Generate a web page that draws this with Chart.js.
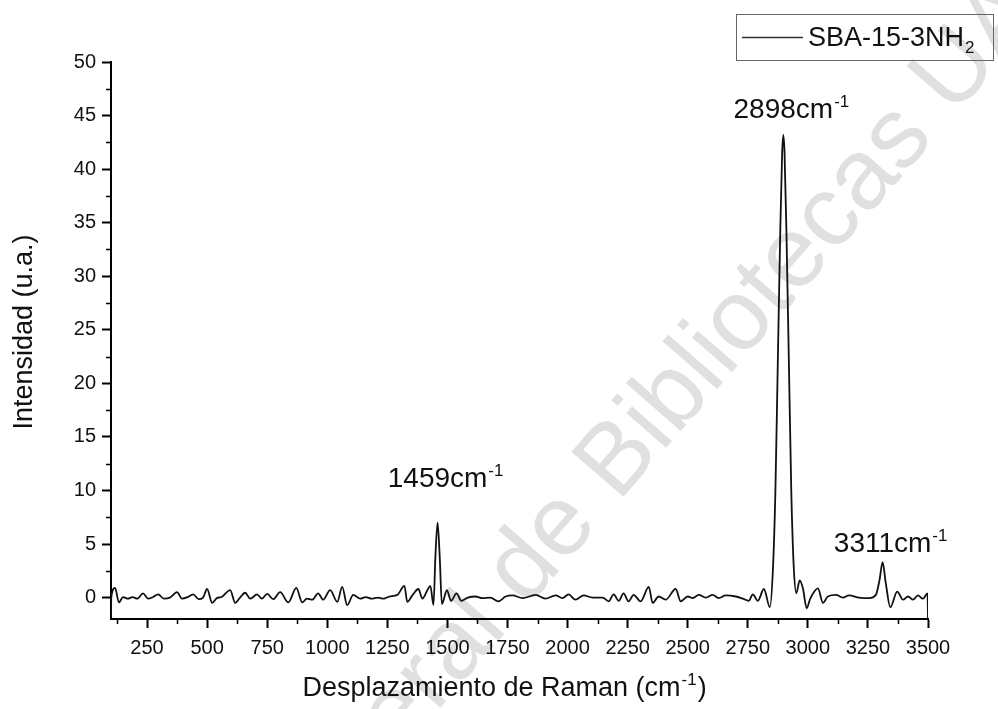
<!DOCTYPE html>
<html>
<head>
<meta charset="utf-8">
<title>Raman SBA-15-3NH2</title>
<script src="https://cdn.jsdelivr.net/npm/chart.js@4.4.1/dist/chart.umd.min.js"></script>
<style>
  html, body { margin: 0; padding: 0; background: #fff; }
  #wrap { width: 998px; height: 709px; }
</style>
</head>
<body>
<div id="wrap"><canvas id="ramanChart" width="998" height="709"></canvas></div>
<script>
// Raman spectrum, SBA-15 functionalised with 3 NH2 groups
const ramanShift = [
  100, 101, 117, 133, 150, 170, 190, 210, 233, 255, 275, 296, 320, 345, 375, 395,
  420, 442, 465, 483, 500, 521, 540, 560, 596, 617, 637, 658, 680, 708, 728, 750,
  775, 804, 838, 871, 896, 915, 938, 962, 983, 1012, 1042, 1062, 1083, 1108, 1137,
  1160, 1185, 1210, 1235, 1258, 1292, 1321, 1333, 1354, 1379, 1396, 1417, 1429,
  1442, 1450, 1459, 1468, 1477, 1498, 1515, 1538, 1558, 1585, 1617, 1646, 1679,
  1712, 1742, 1771, 1813, 1867, 1908, 1950, 1979, 2004, 2033, 2067, 2104, 2146,
  2171, 2192, 2213, 2233, 2254, 2275, 2304, 2338, 2354, 2379, 2408, 2450, 2471,
  2500, 2521, 2546, 2575, 2604, 2629, 2658, 2700, 2729, 2754, 2771, 2792, 2817,
  2842, 2855, 2865, 2875, 2885, 2893, 2898, 2903, 2911, 2921, 2931, 2941, 2952,
  2966, 2980, 2995, 3010, 3042, 3063, 3083, 3117, 3146, 3171, 3213, 3254, 3283,
  3298, 3311, 3324, 3343, 3372, 3396, 3417, 3438, 3458, 3479, 3498, 3500
];
const intensity = [
  -2, 0.0, 0.9, -0.45, 0.05, -0.1, 0.05, -0.1, 0.4, -0.1, 0.05, 0.3, -0.1, 0.0, 0.5, -0.1,
  0.05, 0.3, -0.15, 0.0, 0.8, -0.5, -0.05, 0.05, 0.7, -0.5, 0.0, 0.45, -0.1, 0.3, -0.1, 0.35,
  -0.15, 0.5, -0.45, 0.9, -0.45, -0.1, -0.2, 0.4, -0.2, 0.7, -0.4, 1.0, -0.7, 0.25, -0.1,
  0.05, -0.1, 0.0, -0.1, 0.1, 0.25, 1.1, -0.4, 0.2, 0.8, -0.1, 0.7, 1.1,
  -0.7, 3.8, 7.0, 3.8, -0.6, 0.7, -0.3, 0.4, -0.3, 0.0, 0.1, -0.05, 0.0,
  -0.35, 0.1, 0.2, -0.05, 0.25, -0.1, 0.2, -0.05, 0.3, -0.2, 0.2, 0.0, 0.0,
  -0.35, 0.3, -0.3, 0.4, -0.35, 0.25, -0.35, 1.0, -0.5, 0.1, -0.2, 0.8, -0.35,
  0.1, -0.05, 0.25, 0.0, 0.25, -0.05, 0.2, 0.1, -0.1, -0.3, 0.3, -0.3, 0.8,
  -0.9, 2.8, 10, 22, 34, 41.5, 43.2, 41.5, 34, 22, 10, 3, 0.4,
  1.6, 0.8, -1.0, -0.1, 0.85, -0.5, 0.1, 0.25, 0.0, 0.2, 0.0, -0.05, 0.25,
  1.6, 3.3, 1.4, -0.9, 0.55, -0.2, 0.1, -0.2, 0.2, -0.1, 0.4, -2
];
const xTicks = [250, 500, 750, 1000, 1250, 1500, 1750, 2000, 2250, 2500, 2750, 3000, 3250, 3500];
const yTicks = [0, 5, 10, 15, 20, 25, 30, 35, 40, 45, 50];
const peakLabels = [1459, 2898, 3311];
const seriesName = ["SBA-15-3NH", "2"];

const FONT = '"Liberation Sans", Arial, sans-serif';
const INK = "#111";

// draws base text plus a raised (sup) or lowered (sub) small part, returns end x
function scriptText(ctx, base, small, x, y, size, raise) {
  ctx.font = `${size}px ${FONT}`;
  ctx.fillText(base, x, y);
  const w = ctx.measureText(base).width;
  ctx.font = `${Math.round(size * 0.62)}px ${FONT}`;
  ctx.fillText(small, x + w + 1, y + raise);
  return x + w + 1 + ctx.measureText(small).width;
}

function baseWidth(ctx, str, size) {
  ctx.font = `${size}px ${FONT}`;
  return ctx.measureText(str).width;
}

const decor = {
  id: "decor",
  beforeDraw(chart) {
    const ctx = chart.ctx;
    ctx.save();
    ctx.fillStyle = "#e0e0e0";
    ctx.translate(618, 503);
    ctx.rotate(-49 * Math.PI / 180);
    ctx.font = `100px ${FONT}`;
    ctx.textBaseline = "alphabetic";
    ctx.textAlign = "right";
    ctx.fillText("Dirección General de ", 0, 0);
    ctx.textAlign = "left";
    ctx.fillText("Bibliotecas UAQ", 0, 0);
    ctx.restore();
  },
  afterDraw(chart) {
    const ctx = chart.ctx;
    const xs = chart.scales.x, ys = chart.scales.y;
    const area = chart.chartArea;
    ctx.save();

    // minor ticks
    ctx.strokeStyle = "#000";
    ctx.lineWidth = 1.5;
    ctx.beginPath();
    for (let v = 125; v < 3500; v += 250) {
      const px = Math.round(xs.getPixelForValue(v)) + 0.5;
      ctx.moveTo(px, area.bottom);
      ctx.lineTo(px, area.bottom + 5);
    }
    for (let v = 2.5; v < 50; v += 5) {
      const py = Math.round(ys.getPixelForValue(v)) + 0.5;
      ctx.moveTo(area.left, py);
      ctx.lineTo(area.left - 5, py);
    }
    ctx.stroke();

    ctx.fillStyle = INK;
    ctx.textAlign = "left";
    ctx.textBaseline = "alphabetic";

    // peak labels
    const gaps = { 1459: 36, 2898: 17, 3311: 10 };
    peakLabels.forEach((p) => {
      const i = ramanShift.indexOf(p);
      const px = xs.getPixelForValue(p);
      const py = ys.getPixelForValue(intensity[i]);
      const base = `${p}cm`;
      const w = baseWidth(ctx, base, 28);
      scriptText(ctx, base, "-1", px - w / 2, py - (gaps[p] || 14), 28, -11);
    });

    // x title
    const xBase = "Desplazamiento de Raman (cm";
    const xw = baseWidth(ctx, xBase, 27) + 14 + baseWidth(ctx, ")", 27);
    const endX = scriptText(ctx, xBase, "-1", 503 - xw / 2, 696, 27, -11);
    ctx.font = `27px ${FONT}`;
    ctx.fillText(")", endX + 1, 696);

    // y title
    ctx.save();
    ctx.translate(32, 332);
    ctx.rotate(-Math.PI / 2);
    ctx.textAlign = "center";
    ctx.font = `27px ${FONT}`;
    ctx.fillText("Intensidad (u.a.)", 0, 0);
    ctx.restore();

    // legend
    ctx.strokeStyle = "#666";
    ctx.lineWidth = 1;
    ctx.strokeRect(736.5, 14.5, 257, 46);
    ctx.strokeStyle = "#333";
    ctx.lineWidth = 1.5;
    ctx.beginPath();
    ctx.moveTo(742, 37.5);
    ctx.lineTo(803, 37.5);
    ctx.stroke();
    ctx.fillStyle = INK;
    scriptText(ctx, seriesName[0], seriesName[1], 808, 46, 27, 7);

    ctx.restore();
  }
};

new Chart(document.getElementById("ramanChart"), {
  type: "line",
  data: {
    datasets: [
      {
        label: seriesName.join(""),
        data: ramanShift.map((x, i) => ({ x: x, y: intensity[i] })),
        borderColor: "#111",
        borderWidth: 1.8,
        pointRadius: 0,
        cubicInterpolationMode: "monotone",
        fill: false,
      },
    ],
  },
  options: {
    responsive: false,
    animation: false,
    devicePixelRatio: 1,
    layout: { padding: { top: 62, right: 70, left: 0, bottom: 0 } },
    plugins: { legend: { display: false }, tooltip: { enabled: false } },
    scales: {
      x: {
        type: "linear",
        min: 100,
        max: 3500,
        afterBuildTicks: (s) => { s.ticks = xTicks.map((v) => ({ value: v })); },
        afterFit: (s) => { s.height = 90; },
        grid: { display: true, drawOnChartArea: false, drawTicks: true, tickLength: 9, tickWidth: 2, tickColor: "#000" },
        border: { display: true, color: "#000", width: 2 },
        ticks: { autoSkip: false, maxRotation: 0, padding: 8, color: INK, font: { family: FONT, size: 20 }, callback: (v) => String(v) },
      },
      y: {
        type: "linear",
        min: -2,
        max: 50,
        afterBuildTicks: (s) => { s.ticks = yTicks.map((v) => ({ value: v })); },
        afterFit: (s) => { s.width = 111; },
        grid: { display: true, drawOnChartArea: false, drawTicks: true, tickLength: 9, tickWidth: 2, tickColor: "#000" },
        border: { display: true, color: "#000", width: 2 },
        ticks: { padding: 6, color: INK, font: { family: FONT, size: 20 }, callback: (v) => String(v) },
      },
    },
  },
  plugins: [decor],
});
</script>
</body>
</html>
